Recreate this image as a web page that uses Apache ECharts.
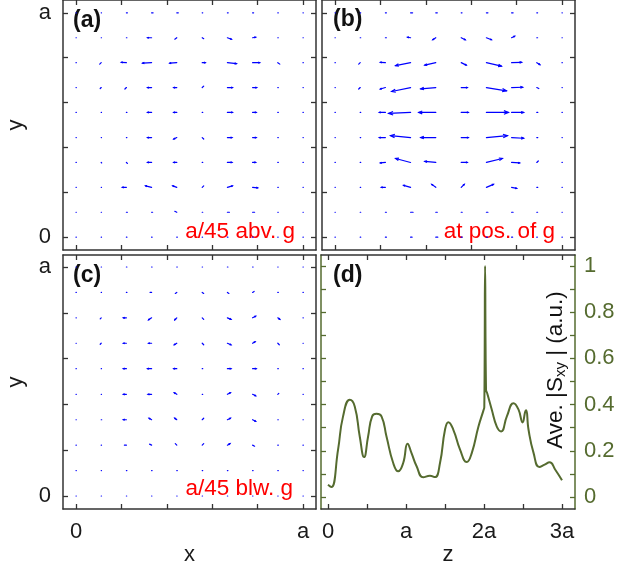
<!DOCTYPE html>
<html><head><meta charset="utf-8">
<script src="https://cdn.jsdelivr.net/npm/echarts@6/dist/echarts.min.js"></script>
<style>html,body{margin:0;padding:0;background:#fff}#c{width:635px;height:569px}</style>
</head><body><div id="c"></div>
<script>
// ---- grid sample positions (fraction of a) ----
const gridXY = [0, 0.111, 0.222, 0.333, 0.444, 0.556, 0.667, 0.778, 0.889, 1];

// ---- vector fields: rows from bottom (y=0) to top (y=a), columns x=0..a ----
const uA = [
 [0.3,0.3,0.5,0.5,0.5,0.3,0.5,0.5,0.3,0.3],
 [0.3,0.3,1,1,-2,0.5,2,2,0.5,0.3],
 [0.3,0.3,-4,-6,-4,1.5,5,5,0.5,0.3],
 [0.3,0.5,1,-4,-3,0.5,4.5,3,0.5,0.3],
 [0.3,0.3,0.5,-4,-3,1.5,4.5,3.5,0.5,0.3],
 [0.3,0.3,0.5,-4,-3,0.5,5,3.5,0.5,0.3],
 [0.3,-1,-1.5,-4,-3,1.5,5,4,0.5,0.3],
 [0.3,-1.5,-5,-9,-7,3,9,7,2,0.3],
 [0.3,0.3,0.5,-4,-2,1.5,4,3,0.5,0.3],
 [0.3,0.3,1,1.5,1.5,0.5,0.8,1,0.5,0.3]
];
const vA = [
 [0,0,0,0,0,0,0,0,0,0],
 [0,0,0,0,1,0,0,0,0,0],
 [0,0,0,1.5,1.5,1.5,1.5,-0.5,0,0],
 [0,-0.5,-1,0,0,0,0,0,0,0],
 [0,0,0,0,-1.5,-1.5,0,0,0,0],
 [0,0,0,0,0,0,0,0,0,0],
 [0,-1,-1.5,0,0,1.5,0,0,0,0],
 [0,-1.5,0.3,-0.5,-0.5,0,-1,0,-1.5,0],
 [0,0,0,0,-1.5,-1,-1.5,0.5,0,0],
 [0,0,0,0,0,0,0,0,0,0]
];
const uB = [
 [0.3,0.5,1,1.5,2,1,1,1,0.5,0.3],
 [0.3,0.5,1,2.5,1.5,1,1.5,1.5,0.8,0.3],
 [0.3,0.5,-4,-7,-4,3,7,5,1,0.3],
 [0.3,0.5,-5,-15,-11,6,16,8,1.5,0.3],
 [0.3,0.5,-6,-20,-15,7,21,12,1,0.3],
 [0.3,0.5,-6,-22,-17,7,22,12,1,0.3],
 [0.3,-1.5,-5,-19,-15,6,20,11,2,0.3],
 [0.3,-1.5,-5,-15,-11,5,15,10,3,0.3],
 [0.3,0.5,1,-3,-3,4,5,3,0.8,0.3],
 [0.3,0.5,1,2,1.5,0.8,1.5,1.5,0.8,0.3]
];
const vB = [
 [0,0,0,0,0,0,0,0,0,0],
 [0,0,0,0,0,0,0,0,0,0],
 [0,0,0,2,3,3,3,-1,0,0],
 [0,0,-0.5,4,1,0,4,-0.5,1.5,0],
 [0,0,0,2,0,0,2,-0.7,0,0],
 [0,0,0,-1,0,0,0,0,0,0],
 [0,-1.5,-1.5,-4,-1.3,0,-3.3,0.3,-1,0],
 [0,-1.5,0.3,-3,-2.5,-2.5,-3.5,0.3,-2,0],
 [0,0,0,0.5,-2,-2,-2,1.5,0,0],
 [0,0,0,0,0,0,0,0,0,0]
];
const uC = [
 [0.3,0.3,0.3,0.3,0.3,0.3,0.3,0.3,0.3,0.3],
 [0.3,0.3,0.5,0.5,0.5,0.5,0.5,0.5,0.5,0.3],
 [0.3,0.3,-2,-2,-1.5,1.5,2.5,2,0.5,0.3],
 [0.3,0.5,-3,-2.5,-2,1.5,3,3,0.5,0.3],
 [0.3,0.3,-3,-3.5,-2.5,0.5,3,3,1,0.3],
 [0.3,0.3,-3,-4,-3,0.5,3.5,3.5,0.5,0.3],
 [0.3,-1,-3,-3,-2.5,1.5,3.5,2.5,1.5,0.3],
 [0.3,-1,-3,-3,-2,1.5,3.5,3,2,0.3],
 [0.3,0.3,0.5,-1.5,-1.5,1.5,1.5,1.5,0.5,0.3],
 [0.3,0.3,0.5,0.5,0.5,0.3,0.5,0.5,0.3,0.3]
];
const vC = [
 [0,0,0,0,0,0,0,0,0,0],
 [0,0,0,0,0,0,0,0,0,0],
 [0,0,0,1,1.5,1.5,1.5,-1,0,0],
 [0,0,0,1.5,1.5,1.5,1.5,-1.5,0,0],
 [0,0,0,0,1.5,0,1.5,-1.5,1,0],
 [0,0,0,0,0,0,0,0,0,0],
 [0,-1,0,0,-1.5,-1.5,-1.5,1.5,-1.5,0],
 [0,-1,0,-2,-2,-1.5,-1.5,1.5,-1.5,0],
 [0,0,0,0,-1,-1,-1,1,0,0],
 [0,0,0,0,0,0,0,0,0,0]
];

// ---- panel (d) curve: z (units of a), Ave.|Sxy| (a.u.) ----
const zD = [0,0.043,0.129,0.193,0.279,0.343,0.407,0.463,0.514,0.566,0.621,0.686,0.75,0.836,0.9,0.964,1.02,1.071,1.136,1.221,1.307,1.371,1.436,1.5,1.543,1.607,1.693,1.779,1.843,1.929,1.993,2.004,2.014,2.026,2.04,2.10,2.164,2.22,2.293,2.379,2.443,2.494,2.529,2.541,2.571,2.636,2.709,2.777,2.841,2.914,3.0];
const sD = [0.053,0.043,0.205,0.349,0.421,0.392,0.262,0.173,0.262,0.349,0.360,0.349,0.262,0.147,0.111,0.147,0.231,0.190,0.133,0.085,0.092,0.086,0.147,0.291,0.324,0.291,0.205,0.151,0.190,0.305,0.375,0.39,1.0,0.464,0.45,0.378,0.305,0.284,0.349,0.406,0.378,0.323,0.370,0.375,0.291,0.190,0.130,0.140,0.150,0.118,0.072];

// ---- tick values / labels ----
const sqTicks = [0, 0.2, 0.4, 0.6, 0.8, 1];
const sqLabels = [0, 1];
const sqLabelText = ['0', 'a'];
const zTicks = [0, 0.5, 1, 1.5, 2, 2.5, 3];
const zLabels = [0, 1, 2, 3];
const zLabelText = ['0', 'a', '2a', '3a'];
const sTicks = [0,0.1,0.2,0.3,0.4,0.5,0.6,0.7,0.8,0.9,1];
const sLabels = [0,0.2,0.4,0.6,0.8,1];
const sLabelText = ['0','0.2','0.4','0.6','0.8','1'];

const FRAME = '#333333';
const GREEN = '#556b2f';
const BLUE = '#0000ff';
const FONT = '"Liberation Sans", Arial, Helvetica, sans-serif';
const FS = 22;
const QSCALE = 1 / 227; // quiver scale: field unit -> a

function fieldData(U, V) {
  const out = [];
  for (let j = 0; j < 10; j++) for (let i = 0; i < 10; i++)
    out.push([gridXY[i], gridXY[j], U[j][i], V[j][i]]);
  return out;
}

function quiverItem(params, api) {
  const x = api.value(0), y = api.value(1);
  const u = api.value(2) * QSCALE, v = api.value(3) * QSCALE;
  const p0 = api.coord([x, y]);
  const p1 = api.coord([x + u, y + v]);
  const dx = p1[0] - p0[0], dy = p1[1] - p0[1];
  const L = Math.hypot(dx, dy);
  const children = [{type: 'line', shape: {x1: p0[0], y1: p0[1], x2: p1[0], y2: p1[1]},
    style: {stroke: BLUE, lineWidth: 1.2, lineCap: 'round'}}];
  if (L > 2.5) {
    const hl = Math.max(1.5, 0.22 * L), ang = Math.atan2(dy, dx), a = 0.38;
    const h1 = [p1[0] - hl * Math.cos(ang - a), p1[1] - hl * Math.sin(ang - a)];
    const h2 = [p1[0] - hl * Math.cos(ang + a), p1[1] - hl * Math.sin(ang + a)];
    children.push({type: 'polyline', shape: {points: [h1, p1, h2]},
      style: {stroke: BLUE, fill: null, lineWidth: 1.2}});
  }
  return {type: 'group', children};
}

function axis(gi, pos, min, max, ticks, labels, texts, opts) {
  opts = opts || {};
  const col = opts.color || FRAME;
  return {
    type: 'value', gridIndex: gi, position: pos, min: min, max: max,
    axisLine: {show: true, onZero: false, lineStyle: {color: col, width: 1.5}},
    axisTick: {show: true, inside: true, length: 5, customValues: ticks, lineStyle: {color: col, width: 1.3}},
    axisLabel: labels ? {show: true, customValues: labels, margin: opts.margin || 12,
      formatter: function (v) { const k = labels.findIndex(t => Math.abs(t - v) < 1e-6); return k >= 0 ? texts[k] : ''; },
      color: opts.labelColor || '#1a1a1a', fontSize: FS, fontFamily: FONT} : {show: false},
    splitLine: {show: false},
    name: opts.name || '', nameLocation: 'middle', nameGap: opts.nameGap || 32,
    nameRotate: opts.nameRotate, 
    nameTextStyle: {color: '#1a1a1a', fontSize: FS, fontFamily: FONT}
  };
}

const sqMin = -0.0573, sqMax = 1.0573;
const option = {
  animation: false,
  backgroundColor: '#fff',
  grid: [
    {left: 63, top: -3, width: 253, height: 253},
    {left: 322, top: -3, width: 253, height: 253},
    {left: 63, top: 255, width: 253, height: 254},
    {left: 321, top: 255, width: 254, height: 254}
  ],
  xAxis: [
    axis(0, 'bottom', sqMin, sqMax, sqTicks),
    axis(0, 'top', sqMin, sqMax, sqTicks),
    axis(1, 'bottom', sqMin, sqMax, sqTicks),
    axis(1, 'top', sqMin, sqMax, sqTicks),
    axis(2, 'bottom', sqMin, sqMax, sqTicks, sqLabels, sqLabelText, {name: 'x', nameGap: 33}),
    axis(2, 'top', sqMin, sqMax, sqTicks),
    axis(3, 'bottom', -0.0897, 3.1667, zTicks, zLabels, zLabelText, {name: 'z', nameGap: 33}),
    axis(3, 'top', -0.0897, 3.1667, zTicks)
  ],
  yAxis: [
    axis(0, 'left', sqMin, sqMax, sqTicks, sqLabels, sqLabelText, {name: 'y', nameGap: 36, nameRotate: 90}),
    axis(0, 'right', sqMin, sqMax, sqTicks),
    axis(1, 'left', sqMin, sqMax, sqTicks),
    axis(1, 'right', sqMin, sqMax, sqTicks),
    axis(2, 'left', -0.0568, 1.0524, sqTicks, sqLabels, sqLabelText, {name: 'y', nameGap: 36, nameRotate: 90}),
    axis(2, 'right', -0.0568, 1.0524, sqTicks),
    axis(3, 'left', -0.052, 1.0476, sTicks, null, null, {color: GREEN}),
    axis(3, 'right', -0.052, 1.0476, sTicks, sLabels, sLabelText, {color: GREEN, labelColor: GREEN, margin: 9})
  ],
  series: [
    {type: 'custom', coordinateSystem: 'cartesian2d', xAxisIndex: 0, yAxisIndex: 0, renderItem: quiverItem, data: fieldData(uA, vA), silent: true},
    {type: 'custom', coordinateSystem: 'cartesian2d', xAxisIndex: 2, yAxisIndex: 2, renderItem: quiverItem, data: fieldData(uB, vB), silent: true},
    {type: 'custom', coordinateSystem: 'cartesian2d', xAxisIndex: 4, yAxisIndex: 4, renderItem: quiverItem, data: fieldData(uC, vC), silent: true},
    {type: 'line', xAxisIndex: 6, yAxisIndex: 7, data: zD.map((z, i) => [z, sD[i]]),
      showSymbol: false, smooth: 0.5,
      lineStyle: {color: GREEN, width: 2}, silent: true}
  ],
  graphic: [
    {type: 'text', x: 73, y: 21, style: {text: '(a)', font: 'bold 23px ' + FONT, fill: '#111', align: 'left', verticalAlign: 'middle'}},
    {type: 'text', x: 333, y: 20, style: {text: '(b)', font: 'bold 23px ' + FONT, fill: '#111', align: 'left', verticalAlign: 'middle'}},
    {type: 'text', x: 73, y: 276, style: {text: '(c)', font: 'bold 23px ' + FONT, fill: '#111', align: 'left', verticalAlign: 'middle'}},
    {type: 'text', x: 333, y: 276, style: {text: '(d)', font: 'bold 23px ' + FONT, fill: '#111', align: 'left', verticalAlign: 'middle'}},
    {type: 'text', x: 295, y: 232, style: {text: 'a/45 abv. g', font: '22.5px ' + FONT, fill: '#ff0000', align: 'right', verticalAlign: 'middle'}},
    {type: 'text', x: 555, y: 232, style: {text: 'at pos. of g', font: '22.5px ' + FONT, fill: '#ff0000', align: 'right', verticalAlign: 'middle'}},
    {type: 'text', x: 293, y: 489, style: {text: 'a/45 blw. g', font: '22.5px ' + FONT, fill: '#ff0000', align: 'right', verticalAlign: 'middle'}},
    {type: 'text', x: 556, y: 370, rotation: Math.PI / 2,
      style: {text: '{m|Ave. |S}{s|xy}{m| | (a.u.)}', align: 'center', verticalAlign: 'middle', fill: '#111',
        rich: {
          m: {fontSize: 22.5, fontFamily: FONT, lineHeight: 24, verticalAlign: 'top', fill: '#111'},
          s: {fontSize: 15, fontFamily: FONT, lineHeight: 10, verticalAlign: 'bottom', fill: '#111'}
        }}}
  ]
};
const chart = echarts.init(document.getElementById('c'), null, {renderer: 'canvas'});
chart.setOption(option);
</script>
</body></html>
